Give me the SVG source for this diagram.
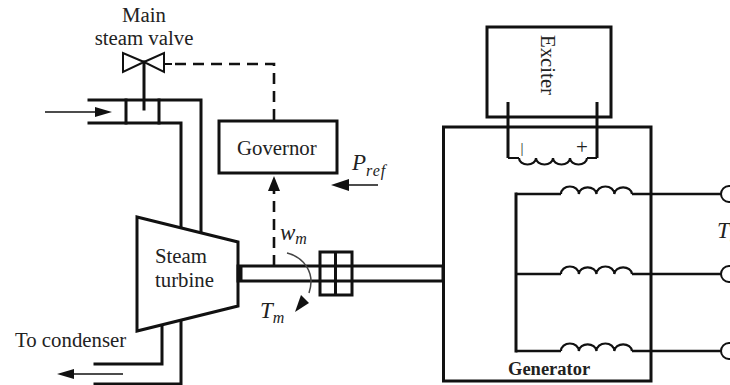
<svg xmlns="http://www.w3.org/2000/svg" width="730" height="385" viewBox="0 0 730 385">
<defs>
<style>
.l{fill:none;stroke:#111;stroke-width:3;stroke-linecap:square}
.t{fill:none;stroke:#111;stroke-width:2}
.w{fill:none;stroke:#111;stroke-width:2.4}
.k{fill:none;stroke:#111;stroke-width:3}
.e{fill:none;stroke:#111;stroke-width:5}
.c{fill:none;stroke:#111;stroke-width:2.2}
.d{fill:none;stroke:#111;stroke-width:2.6;stroke-dasharray:11 7}
.a{fill:none;stroke:#111;stroke-width:1.6}
.h{fill:#111;stroke:none}
text{font-family:"Liberation Serif","Times New Roman",serif;fill:#222}
.s{font-size:20.8px}
.i{font-style:italic;font-size:23px}
.b{font-style:italic;font-size:16px;letter-spacing:1px}
</style>
</defs>
<rect width="730" height="385" fill="#fff"/>
<g id="connectors">
<path class="t" d="M164 64H172"/>
<path class="d" d="M175 64H274V121"/>
<path class="l" d="M144 62V109"/>
<path class="a" d="M45 112H98"/>
<path class="h" d="M112 112L95 107V117Z"/>
<path class="l" d="M89 100H201V233"/>
<path class="l" d="M89 123H181V227"/>
<path class="l" d="M126 100V123M159 100V123"/>
<path class="l" d="M162 327V364H95"/>
<path class="l" d="M181 322V384H95"/>
<path class="a" d="M123 374H72"/>
<path class="h" d="M57 374L74 369V379Z"/>
<path class="d" d="M274 266V190"/>
<path class="h" d="M274 176L268 191H280Z"/>
<path class="a" d="M378 185H345"/>
<path class="h" d="M331 185L349 179V191Z"/>
<path class="t" d="M508 158H519M587 158H597"/>
<path class="l" d="M516 351V194"/>
<path class="w" d="M516 194H561M516 274H561M516 351H561"/>
<path class="w" d="M632 194H721M632 274H721M632 351H721"/>
</g>
<g id="valve">
<path d="M144 62L123 53V72ZM144 62L164 53V72Z" fill="#fff" stroke="#111" stroke-width="2"/>
<text class="s" x="144" y="22" text-anchor="middle">Main</text>
<text class="s" x="144" y="45" text-anchor="middle">steam valve</text>
</g>
<g id="governor">
<rect class="l" x="219" y="121" width="118" height="52"/>
<text class="s" x="237" y="155">Governor</text>
</g>
<g id="turbine">
<path d="M137 217L238 242V306L137 331Z" fill="#fff" stroke="#111" stroke-width="3"/>
<text class="s" x="155" y="263">Steam</text>
<text class="s" x="155" y="287">turbine</text>
</g>
<g id="condenser-label"><text class="s" x="15" y="347">To condenser</text></g>
<g id="shaft">
<rect x="238" y="266" width="205" height="15" fill="#fff" stroke="#111" stroke-width="3"/>
<path class="e" d="M240 266V281"/>
<rect class="k" x="320" y="252" width="32" height="43"/>
<path class="k" d="M335.500 252V295"/>
<path d="M287 253C303 257 316 272 309 293" fill="none" stroke="#444" stroke-width="1.5"/>
<path class="h" d="M295 312L301 295L309 303Z"/>
</g>
<g id="labels">
<text class="i" x="352" y="170">P<tspan class="b" dy="6">ref</tspan></text>
<text class="i" x="280" y="240">w<tspan class="b" dy="4">m</tspan></text>
<text class="i" x="260" y="318">T<tspan class="b" dy="5">m</tspan></text>
<text class="i" x="717" y="238">T<tspan class="b" dy="5">e</tspan></text>
</g>
<g id="exciter">
<rect class="l" x="487" y="27" width="124" height="90"/>
<text class="s" transform="translate(541 35) rotate(90)">Exciter</text>
<path class="k" d="M508 102V158M597 102V158"/>
</g>
<g id="generator">
<rect class="l" x="443.500" y="127" width="207.500" height="254"/>
<path class="c" d="M519 158A8.500 6.500 0 0 0 536 158A8.500 6.500 0 0 0 553 158A8.500 6.500 0 0 0 570 158A8.500 6.500 0 0 0 587 158"/>
<text x="522" y="153" font-size="15" text-anchor="middle">|</text>
<text x="582" y="154" font-size="21" text-anchor="middle">+</text>
<path class="c" d="M561 194A8.900 7.500 0 0 1 578.800 194A8.900 7.500 0 0 1 596.500 194A8.900 7.500 0 0 1 614.300 194A8.900 7.500 0 0 1 632 194"/>
<path class="c" d="M561 274A8.900 7.500 0 0 1 578.800 274A8.900 7.500 0 0 1 596.500 274A8.900 7.500 0 0 1 614.300 274A8.900 7.500 0 0 1 632 274"/>
<path class="c" d="M561 351A8.900 7.500 0 0 1 578.800 351A8.900 7.500 0 0 1 596.500 351A8.900 7.500 0 0 1 614.300 351A8.900 7.500 0 0 1 632 351"/>
<text x="508" y="375" font-size="18.500" font-weight="bold">Generator</text>
</g>
<g id="terminals">
<circle class="t" cx="729" cy="194" r="8"/>
<circle class="t" cx="729" cy="274" r="8"/>
<circle class="t" cx="729" cy="351" r="8"/>
</g>
</svg>
